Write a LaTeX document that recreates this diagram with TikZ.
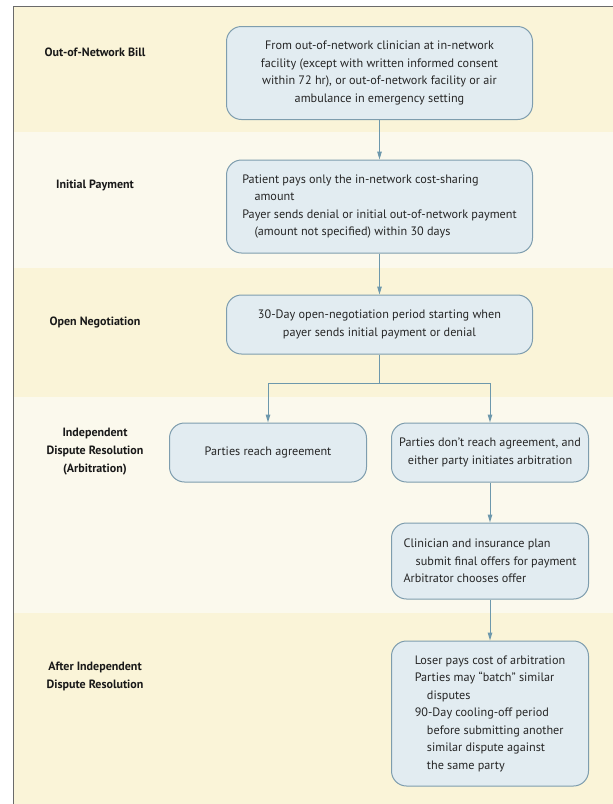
\documentclass[tikz,border=0pt]{standalone}
\usepackage{fontspec}
\setmainfont{PT Sans}
\usepackage{xcolor}
\usepackage{tikz}
\usetikzlibrary{arrows.meta,positioning}

\definecolor{banddark}{HTML}{FAF4D8}
\definecolor{bandlight}{HTML}{FBF9ED}
\definecolor{boxfill}{HTML}{E2ECF1}
\definecolor{boxline}{HTML}{7E9DAE}
\definecolor{linkblue}{HTML}{6D98AC}
\definecolor{framegray}{HTML}{6A6A6A}

\begin{document}
\begin{tikzpicture}[
            x=1pt,y=-1pt,
            stage/.style={draw=boxline,fill=boxfill,line width=1pt,rounded corners=15pt,align=center,inner sep=0pt,text=black!85,font=\fontsize{12.2}{17.5}\selectfont},
            widestage/.style={stage,minimum width=306pt},
            narrowstage/.style={stage,minimum width=197pt},
            phase/.style={align=center,text=black!90,font=\bfseries\fontsize{12}{18}\selectfont},
            arrow/.style={-{Triangle[length=8pt,width=4.5pt]},linkblue,line width=1pt},
            link/.style={linkblue,line width=1pt}
        ]
            \useasboundingbox (0,0) rectangle (613,804);
            % background bands and frame
            \foreach \top/\bot/\col in {7/132/banddark,132/268/bandlight,268/397/banddark,397/613/bandlight,613/804/banddark}
                \fill[\col] (14,\top) rectangle (613,\bot);
            \draw[framegray,line width=1.5pt] (13.5,804) -- (13.5,6.5) -- (613,6.5);
            % phase labels
            \node[phase] (p1) at (95,52) {Out-of-Network Bill};
            \node[phase] (p2) at (95,185) {Initial Payment};
            \node[phase] (p3) at (95,322) {Open Negotiation};
            \node[phase] (p4) at (95,452) {Independent\\Dispute Resolution\\(Arbitration)};
            \node[phase] (p5) at (95,676) {After Independent\\Dispute Resolution};
            % steps
            \node[widestage,minimum height=93pt] (bill) at (379.5,73) {From out-of-network clinician at in-network\\facility (except with written informed consent\\within 72 hr), or out-of-network facility or air\\ambulance in emergency setting};
            \node[widestage,minimum height=93pt,align=left] (pay) at (379.5,206.5) {Patient pays only the in-network cost-sharing\\\hspace*{1em}amount\\Payer sends denial or initial out-of-network payment\\\hspace*{1em}(amount not specified) within 30 days};
            \node[widestage,minimum height=59pt] (nego) at (379.5,324.5) {30-Day open-negotiation period starting when\\payer sends initial payment or denial};
            \node[narrowstage,minimum height=59pt] (agree) at (268,452.5) {Parties reach agreement};
            \node[narrowstage,minimum height=59pt] (noagree) at (490,452.5) {Parties don’t reach agreement, and\\either party initiates arbitration};
            \node[narrowstage,minimum height=76pt,align=left] (offer) at (490,561) {Clinician and insurance plan\\\hspace*{1em}submit final offers for payment\\Arbitrator chooses offer};
            \node[narrowstage,minimum height=145pt,align=left] (after) at (490,713.5) {Loser pays cost of arbitration\\Parties may “batch” similar\\\hspace*{1em}disputes\\90-Day cooling-off period\\\hspace*{1em}before submitting another\\\hspace*{1em}similar dispute against\\\hspace*{1em}the same party};
            % connectors
            \coordinate (fork) at (379.5,383);
            \draw[arrow] (bill.south) -- (pay.north);
            \draw[arrow] (pay.south) -- (nego.north);
            \draw[link] (nego.south) -- (fork);
            \draw[arrow] (fork) -| (agree.north);
            \draw[arrow] (fork) -| (noagree.north);
            \draw[arrow] (noagree.south) -- (offer.north);
            \draw[arrow] (offer.south) -- (after.north);
        \end{tikzpicture}
\end{document}
